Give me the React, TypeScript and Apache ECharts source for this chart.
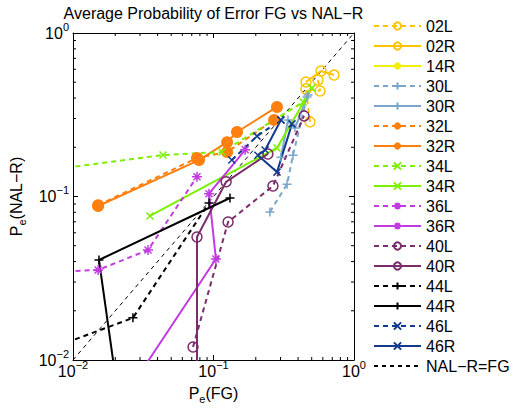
import { useEffect, useRef } from 'react';
import * as echarts from 'echarts';

// ---- data (x = Pe(FG), y = Pe(NAL-R)) ----
const d02L = [[0.486, 0.286], [0.455, 0.455], [0.573, 0.442], [0.554, 0.516]];
const d02R = [[0.455, 0.502], [0.582, 0.586], [0.721, 0.553]];
const d14R: number[][] = [];
const d30L = [[0.252, 0.0804], [0.334, 0.119], [0.368, 0.179], [0.463, 0.406]];
const d30R = [[0.302, 0.174], [0.339, 0.294], [0.38, 0.262], [0.471, 0.418]];
const d32L = [[0.0151, 0.0885], [0.0763, 0.172], [0.125, 0.187], [0.27, 0.294]];
const d32R = [[0.0151, 0.0875], [0.0789, 0.167], [0.125, 0.215], [0.147, 0.248], [0.283, 0.353]];
const d34L = [[0.009, 0.150], [0.0437, 0.1794], [0.115, 0.187], [0.434, 0.378], [0.502, 0.461]];
const d34R = [[0.0353, 0.076], [0.283, 0.198], [0.502, 0.461]];
const d36L = [[0.009, 0.0349], [0.0151, 0.0355], [0.0342, 0.0471], [0.0763, 0.132]];
const d36R = [[0.03, 0.0083], [0.104, 0.0415], [0.0929, 0.104], [0.168, 0.193]];
const d40L = [[0.0715, 0.012], [0.127, 0.0698], [0.265, 0.116], [0.441, 0.311]];
const d40R = [[0.0763, 0.005], [0.0763, 0.0565], [0.123, 0.123], [0.244, 0.182]];
const d44L = [[0.009, 0.0128], [0.0267, 0.0181], [0.0929, 0.0913]];
const d44R = [[0.02, 0.008], [0.0153, 0.0409], [0.131, 0.0979]];
const d46L = [[0.135, 0.167], [0.204, 0.234], [0.302, 0.294]];
const d46R = [[0.302, 0.294], [0.233, 0.1925], [0.207, 0.179], [0.283, 0.141], [0.362, 0.278]];
const diagonal = [[0.01, 0.01], [1, 1]];
const minorTicks = [0.02, 0.03, 0.04, 0.05, 0.06, 0.07, 0.08, 0.09, 0.2, 0.3, 0.4, 0.5, 0.6, 0.7, 0.8, 0.9];
const diagName = 'NAL\u2212R=FG';
const titleText = 'Average Probability of Error FG vs NAL\u2212R';

const FONT = '"Liberation Sans", Arial, Helvetica, sans-serif';
const PLUS = 'path://M0,5L10,5M5,0L5,10';
const CROSS = 'path://M0,0L10,10M0,10L10,0';
const STAR = 'path://M0,5L10,5M5,0L5,10M1.5,1.5L8.5,8.5M1.5,8.5L8.5,1.5';

const C = {
  gold: '#FFC400',
  yellow: '#F2F000',
  steel: '#7AA6CC',
  orange: '#FF7F10',
  green: '#7CF000',
  magenta: '#C23BE0',
  plum: '#7B2D6B',
  black: '#000000',
  navy: '#123A8F',
};

function mk(name: string, data: number[][], color: string, dashed: boolean, marker: string) {
  let symbol = 'circle';
  let symbolSize = 10;
  let itemStyle: any = { color, borderColor: color, borderWidth: 1.5 };
  if (marker === 'o') {
    symbol = 'circle';
    symbolSize = 10;
    itemStyle = { color: 'rgba(255,255,255,0)', borderColor: color, borderWidth: 1.5 };
  } else if (marker === 'dot') {
    symbol = 'circle';
    symbolSize = 12;
    itemStyle = { color, borderColor: color, borderWidth: 0 };
  } else if (marker === '+') {
    symbol = PLUS;
    symbolSize = 9;
  } else if (marker === 'x') {
    symbol = CROSS;
    symbolSize = 7;
  } else if (marker === '*') {
    symbol = STAR;
    symbolSize = 10;
  }
  return {
    type: 'line',
    name,
    data,
    symbol,
    symbolSize,
    itemStyle,
    lineStyle: { color, width: 2, type: dashed ? [5, 4] : 'solid' },
    emphasis: { disabled: true },
    clip: true,
    z: 3,
  };
}

export default function App() {
  const ref = useRef<HTMLDivElement>(null);
  useEffect(() => {
    if (!ref.current) return;
    const chart = echarts.init(ref.current, undefined, { renderer: 'svg' });
    const supRich = {
      b: { fontSize: 16, fontFamily: FONT, color: '#000', lineHeight: 16, verticalAlign: 'bottom' },
      s: { fontSize: 11, fontFamily: FONT, color: '#000', lineHeight: 11, padding: [0, 0, 9, 0], verticalAlign: 'bottom' },
    };
    const subRich = {
      b: { fontSize: 16, fontFamily: FONT, color: '#000', lineHeight: 16, verticalAlign: 'top' },
      s: { fontSize: 11, fontFamily: FONT, color: '#000', lineHeight: 11, padding: [8, 0, 0, 0], verticalAlign: 'top' },
    };
    const fmt = (v: number) => {
      const e = Math.round(Math.log10(v));
      return '{b|10}{s|' + (e < 0 ? '\u2212' + -e : String(e)) + '}';
    };
    const logAxis = (pos: string, labels: boolean, isX: boolean) => ({
      type: 'log',
      logBase: 10,
      min: 0.01,
      max: 1,
      position: pos,
      axisLine: { show: true, onZero: false, lineStyle: { color: '#000', width: 1 } },
      axisTick: { show: true, inside: true, length: 5, lineStyle: { color: '#000', width: 1 } },
      splitLine: { show: false },
      axisLabel: labels
        ? { show: true, formatter: fmt, rich: supRich, margin: isX ? 3 : 4 }
        : { show: false },
    });
    const names = ['02L', '02R', '14R', '30L', '30R', '32L', '32R', '34L', '34R', '36L', '36R', '40L', '40R', '44L', '44R', '46L', '46R'];
    const series: any[] = [
      mk('02L', d02L, C.gold, true, 'o'),
      mk('02R', d02R, C.gold, false, 'o'),
      mk('14R', d14R, C.yellow, false, 'dot'),
      mk('30L', d30L, C.steel, true, '+'),
      mk('30R', d30R, C.steel, false, '+'),
      mk('32L', d32L, C.orange, true, 'dot'),
      mk('32R', d32R, C.orange, false, 'dot'),
      mk('34L', d34L, C.green, true, 'x'),
      mk('34R', d34R, C.green, false, 'x'),
      mk('36L', d36L, C.magenta, true, '*'),
      mk('36R', d36R, C.magenta, false, '*'),
      mk('40L', d40L, C.plum, true, 'o'),
      mk('40R', d40R, C.plum, false, 'o'),
      mk('44L', d44L, C.black, true, '+'),
      mk('44R', d44R, C.black, false, '+'),
      mk('46L', d46L, C.navy, true, 'x'),
      mk('46R', d46R, C.navy, false, 'x'),
      {
        type: 'line',
        name: diagName,
        data: diagonal,
        symbol: 'circle',
        showSymbol: false,
        lineStyle: { color: '#000', width: 1, type: [4, 4] },
        itemStyle: { color: 'rgba(0,0,0,0)', borderWidth: 0 },
        emphasis: { disabled: true },
        z: 2,
      },
      {
        type: 'custom',
        name: '__minor',
        silent: true,
        dimensions: ['x', 'y', 'side'],
        data: minorTicks.flatMap((v) => [[v, v, 0], [v, v, 1], [v, v, 2], [v, v, 3]]),
        renderItem: (params: any, api: any) => {
          const v = api.value(0);
          const side = api.value(2);
          const L = 3;
          let p: number[];
          let q: number[];
          if (side === 0) { p = api.coord([v, 0.01]); q = [p[0], p[1] - L]; }
          else if (side === 1) { p = api.coord([v, 1]); q = [p[0], p[1] + L]; }
          else if (side === 2) { p = api.coord([0.01, v]); q = [p[0] + L, p[1]]; }
          else { p = api.coord([1, v]); q = [p[0] - L, p[1]]; }
          return { type: 'line', shape: { x1: p[0], y1: p[1], x2: q[0], y2: q[1] }, style: { stroke: '#000', lineWidth: 1 } };
        },
        z: 5,
      },
    ];
    chart.setOption({
      animation: false,
      backgroundColor: '#fff',
      textStyle: { fontFamily: FONT },
      grid: { left: 73, top: 33, width: 281, height: 327, containLabel: false },
      xAxis: [
        {
          ...logAxis('bottom', true, true),
          name: '{b|P}{s|e}{b|(FG)}',
          nameLocation: 'middle',
          nameGap: 25,
          nameTextStyle: { rich: subRich },
        },
        logAxis('top', false, true),
      ],
      yAxis: [
        {
          ...logAxis('left', true, false),
          name: '{b|P}{s|e}{b|(NAL\u2212R)}',
          nameLocation: 'middle',
          nameGap: 40,
          nameTextStyle: { rich: subRich },
        },
        logAxis('right', false, false),
      ],
      legend: {
        data: [...names, diagName],
        orient: 'vertical',
        left: 373,
        top: 18,
        padding: 0,
        itemWidth: 47,
        itemHeight: 9,
        itemGap: 4,
        selectedMode: false,
        textStyle: { fontFamily: FONT, fontSize: 16, color: '#000', lineHeight: 16 },
      },
      graphic: [
        {
          type: 'text',
          x: 213.5,
          y: 5,
          style: {
            text: titleText,
            fontFamily: FONT,
            fontSize: 16,
            fill: '#000',
            textAlign: 'center',
            textVerticalAlign: 'top',
          },
        },
      ],
      series,
    });
    return () => chart.dispose();
  }, []);
  return <div ref={ref} style={{ position: 'absolute', left: 0, top: 0, width: 516, height: 410, background: '#fff' }} />;
}
